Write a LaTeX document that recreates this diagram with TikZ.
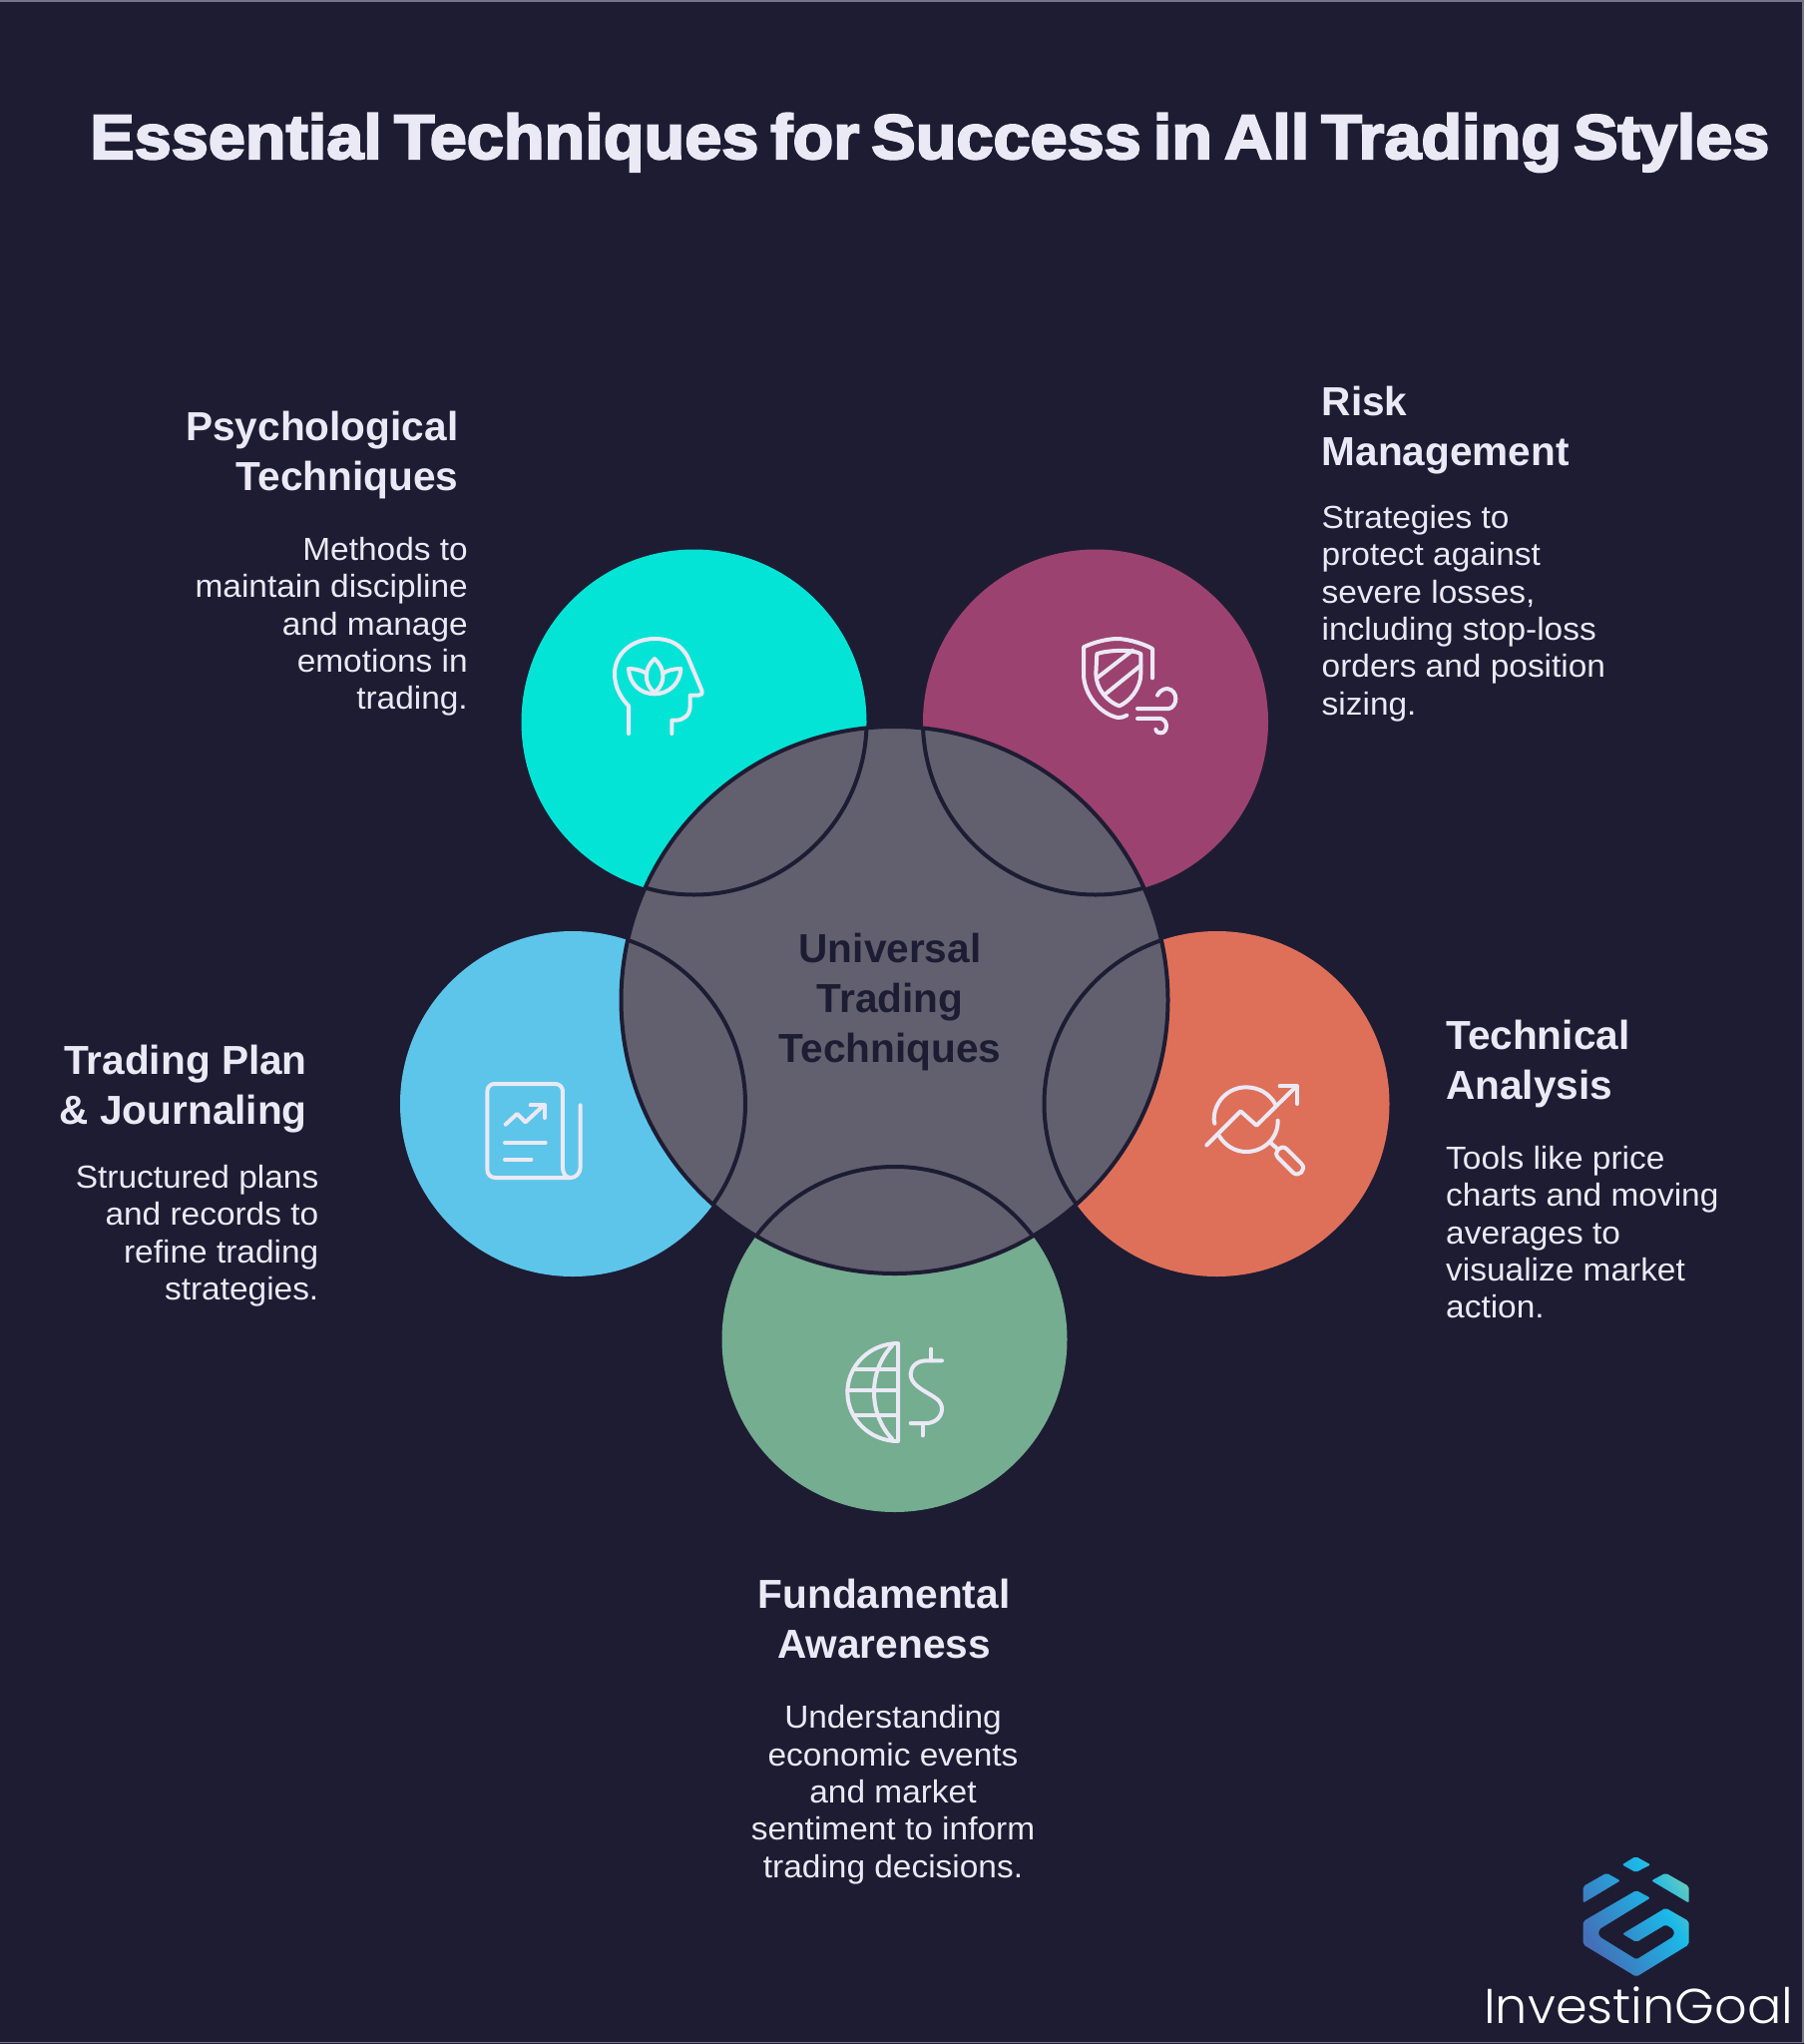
\documentclass[tikz,border=0pt]{standalone}
\usepackage{fontspec}
\setmainfont[FakeStretch=1.045]{Liberation Sans}
\newfontfamily\titlefont[FakeBold=3.4,FakeStretch=1.058,WordSpace=0.65,BoldFont={}]{Liberation Sans Bold}
\newfontfamily\headfont[FakeStretch=1.0,BoldFont={}]{Liberation Sans Bold}
\newfontfamily\logofont[UprightFont=* Light,FakeStretch=1.04]{Poppins}
\definecolor{bgc}{HTML}{1E1C33}
\definecolor{txt}{HTML}{EBE9F5}
\definecolor{cenc}{HTML}{62606F}
\definecolor{cyanc}{HTML}{03E4D6}
\definecolor{magc}{HTML}{9C4270}
\definecolor{bluec}{HTML}{5DC5EA}
\definecolor{orc}{HTML}{DE705A}
\definecolor{grc}{HTML}{74AD90}
\definecolor{framec}{HTML}{77758A}
\definecolor{logoa}{HTML}{4470B8}
\definecolor{logob}{HTML}{1BB8E8}
\definecolor{logoc}{HTML}{5CC8C4}
\pgfdeclarehorizontalshading{logoshade}{100bp}{color(0bp)=(logoa); color(30bp)=(logoa); color(60bp)=(logob); color(71bp)=(logoc); color(100bp)=(logoc)}
\newcommand{\fl}{\rule{0pt}{30pt}}
\tikzset{
  petal/.style={circle,minimum size=346pt,inner sep=0pt,outer sep=0pt,fill=#1},
  ring/.style={draw=bgc,line width=4pt},
  icon/.style={draw=txt,line width=4pt,line cap=round,line join=round},
  head/.style={text=txt,inner sep=0pt,font=\fontsize{40.6}{50}\selectfont\headfont},
  body/.style={text=txt,inner sep=0pt,font=\fontsize{32}{37.4}\selectfont},
  zoomed/.style={x=0.3333pt,y=-0.3333pt},
}
\begin{document}
\begin{tikzpicture}[x=1pt,y=-1pt]
\useasboundingbox (0,0) rectangle (1808,2048);
\fill[bgc] (0,0) rectangle (1808,2048);
\draw[framec,line width=1.5pt] (0,1) -- (1807,1) -- (1807,2046.5) -- (0,2046.5);

\node[anchor=base west,inner sep=0pt,text=txt,font=\fontsize{63}{70}\selectfont\titlefont] (title) at (90,159) {Essential Techniques for Success in All Trading Styles};

\node[petal=cyanc] (psy) at (695.5,723.5) {};
\node[petal=magc] (risk) at (1098,723.5) {};
\node[petal=bluec] (plan) at (574,1106) {};
\node[petal=orc] (tech) at (1219.5,1106) {};
\node[petal=grc] (fund) at (896.5,1342) {};
\node[circle,minimum size=548pt,inner sep=0pt,outer sep=0pt,fill=cenc,draw=bgc,line width=4pt] (cen) at (896.5,1002) {};
\begin{scope}
\clip (896.5,1002) circle[radius=274pt];
\draw[ring] (psy.center) circle[radius=173pt];
\draw[ring] (risk.center) circle[radius=173pt];
\draw[ring] (plan.center) circle[radius=173pt];
\draw[ring] (tech.center) circle[radius=173pt];
\draw[ring] (fund.center) circle[radius=173pt];
\end{scope}

\node[head,text=bgc,align=center,anchor=north] (cenlab) at (892,934) {\fl Universal\\Trading\\Techniques};

\node[head,align=right,anchor=north east] (h1) at (459.5,411) {\fl Psychological\\Techniques};
\node[body,align=right,anchor=north east] (b1) at (469,531) {\fl Methods to\\maintain discipline\\and manage\\emotions in\\trading.};

\node[head,align=left,anchor=north west] (h2) at (1324.5,386.5) {\fl Risk\\Management};
\node[body,align=left,anchor=north west] (b2) at (1324.5,499) {\fl Strategies to\\protect against\\severe losses,\\including stop-loss\\orders and position\\sizing.};

\node[head,align=left,anchor=north west] (h3) at (1449,1021) {\fl Technical\\Analysis};
\node[body,align=left,anchor=north west] (b3) at (1449,1141) {\fl Tools like price\\charts and moving\\averages to\\visualize market\\action.};

\node[head,align=right,anchor=north east] (h4) at (308,1046) {\fl Trading Plan\\\& Journaling};
\node[body,align=right,anchor=north east] (b4) at (319.5,1160) {\fl Structured plans\\and records to\\refine trading\\strategies.};

\node[head,align=center,anchor=north] (h5) at (886,1581.5) {\fl Fundamental\\Awareness};
\node[body,align=center,anchor=north] (b5) at (895,1701.5) {\fl Understanding\\economic events\\and market\\sentiment to inform\\trading decisions.};

% head icon
\begin{scope}[shift={(590,620)},zoomed]
\draw[icon] (120,345) -- (120,262) .. controls (95,235) and (78,205) .. (78,165) .. controls (78,105) and (130,60) .. (200,60) .. controls (245,60) and (278,78) .. (298,115) -- (340,215) .. controls (343,225) and (338,230) .. (330,230) -- (305,230) -- (305,262) .. controls (305,290) and (285,305) .. (262,305) -- (250,305) -- (250,345);
\draw[icon] (198,222) .. controls (165,195) and (165,150) .. (198,120) .. controls (232,150) and (232,195) .. (198,222);
\draw[icon] (175,165) .. controls (160,155) and (140,150) .. (120,150) .. controls (122,195) and (155,226) .. (198,226) .. controls (240,226) and (275,195) .. (277,150) .. controls (255,150) and (235,155) .. (222,165);
\end{scope}
% shield icon
\begin{scope}[shift={(1060,620)},zoomed]
\draw[icon] (285,178) -- (285,90) .. controls (250,70) and (200,60) .. (180,60) .. controls (150,60) and (110,70) .. (78,85) -- (78,165) .. controls (78,225) and (125,285) .. (180,297) .. controls (190,298) and (200,295) .. (208,290);
\draw[icon] (118,105) .. controls (150,95) and (220,90) .. (250,105) -- (250,165) .. controls (250,210) and (215,250) .. (185,262) .. controls (150,250) and (115,210) .. (115,165) -- cycle;
\draw[icon] (118,178) -- (225,95);
\draw[icon] (145,225) -- (250,140);
\draw[icon] (240,270) -- (335,270) .. controls (360,265) and (365,215) .. (330,210) .. controls (315,210) and (305,220) .. (300,230);
\draw[icon] (240,300) -- (310,300) .. controls (335,305) and (330,345) .. (310,343) .. controls (300,343) and (295,338) .. (295,333);
\end{scope}
% report icon
\begin{scope}[shift={(460,1060)},zoomed]
\draw[icon] (365,142) -- (365,325) .. controls (365,350) and (350,360) .. (335,360) -- (110,360) .. controls (95,360) and (85,350) .. (85,335) -- (85,100) .. controls (85,88) and (95,78) .. (105,78) -- (290,78) .. controls (302,78) and (312,88) .. (312,100) -- (312,330) .. controls (312,345) and (320,360) .. (335,360);
\draw[icon] (140,200) -- (175,168) -- (200,193) -- (255,142);
\draw[icon] (215,142) -- (258,142) -- (258,180);
\draw[icon] (138,255) -- (260,255);
\draw[icon] (138,305) -- (217,305);
\end{scope}
% analysis icon
\begin{scope}[shift={(1180,1060)},zoomed]
\draw[icon] (295,140) .. controls (278,108) and (245,88) .. (207,88) .. controls (153,88) and (110,131) .. (110,185) -- (112,197);
\draw[icon] (126,235) .. controls (144,264) and (174,282) .. (207,282) .. controls (261,282) and (304,239) .. (302,188);
\draw[icon] (88,262) -- (190,160) -- (238,203) -- (358,85);
\draw[icon] (308,85) -- (360,85) -- (360,138);
\draw[icon] (280,255) -- (303,275);
\draw[icon] (329,274) -- (373,318) .. controls (390,335) and (364,361) .. (347,344) -- (303,300) .. controls (286,283) and (312,257) .. (329,274) -- cycle;
\end{scope}
% globe icon
\begin{scope}[shift={(820,1320)},zoomed]
\draw[icon] (240,78) -- (240,372) .. controls (157,372) and (88,307) .. (88,225) .. controls (88,143) and (157,78) .. (240,78) -- cycle;
\draw[icon] (222,85) .. controls (185,125) and (168,175) .. (168,225) .. controls (168,275) and (185,325) .. (222,365);
\draw[icon] (108,155) -- (240,155);
\draw[icon] (88,218) -- (240,218);
\draw[icon] (108,295) -- (240,295);
\draw[icon] (372,130) -- (325,130) .. controls (295,130) and (278,150) .. (278,170) .. controls (278,195) and (300,210) .. (325,225) .. controls (350,240) and (372,250) .. (372,275) .. controls (372,300) and (350,318) .. (325,318) -- (278,318);
\draw[icon] (340,95) -- (340,130);
\draw[icon] (314,318) -- (314,355);
\end{scope}
% logo
\begin{scope}[shift={(1460,1840)},zoomed]
\clip[rounded corners=2pt] (497,85) -- (538,60) -- (583,85) -- (538,108) -- cycle
  (380,150) -- (450,110) -- (492,133) -- (380,200) -- cycle
  (585,133) -- (628,110) -- (698,150) -- (698,200) -- cycle
  (540,162) -- (380,255) -- (380,325) -- (540,422) -- (698,325) -- (698,255) -- (628,215) -- (498,293) -- (540,318) -- (628,265) -- (653,280) -- (653,300) -- (540,370) -- (427,300) -- (427,280) -- (582,185) -- cycle;
\shade[shading=logoshade,shading angle=30] (340,30) rectangle (740,440);
\end{scope}
\node[anchor=base west,inner sep=0pt,text=white,font=\fontsize{49}{50}\selectfont\logofont] (logo) at (1487,2027) {InvestinGoal};
\end{tikzpicture}
\end{document}
